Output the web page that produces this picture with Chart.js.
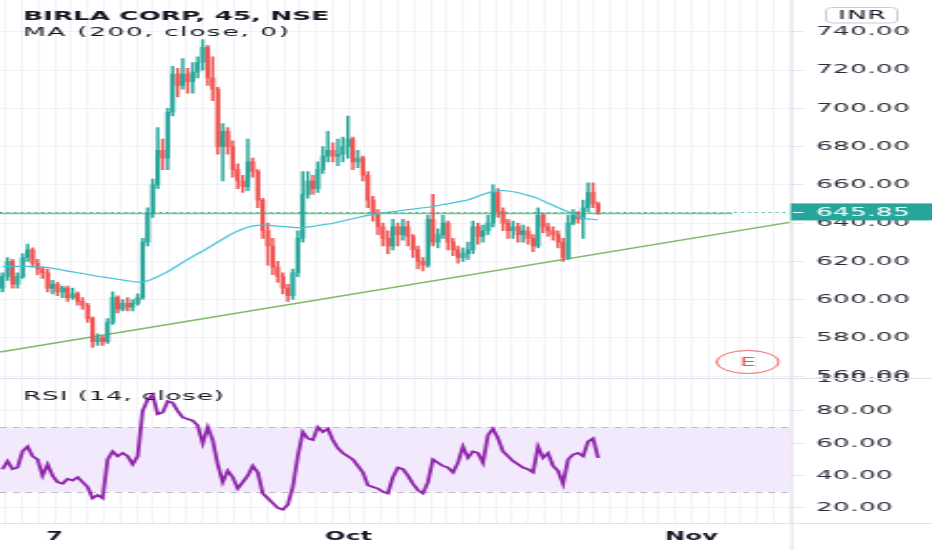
<!DOCTYPE html>
<html lang="en">
<head>
<meta charset="UTF-8">
<title>BIRLA CORP, 45, NSE</title>
<script src="https://cdn.jsdelivr.net/npm/chart.js@4.4.1/dist/chart.umd.min.js"></script>
<style>
  html, body { margin: 0; padding: 0; background: #fff; overflow: hidden; }
  /* the picture is a horizontally stretched screenshot, so the chart is drawn narrow and scaled */
  #chart { display: block; transform: scaleX(2.0991); transform-origin: 0 0; }
</style>
</head>
<body>
<canvas id="chart" width="444" height="550" style="width:444px;height:550px"></canvas>
<script>
// 45 minute candles
const opens = [606,612,620,608,612,622,626,619,616,614,
  606,608,604,606,601,603,599,597,590,578,
  580,578,588,601,595,598,596,598,601,630,
  645,660,678,674,698,718,712,718,714,719,
  724,732,716,710,680,688,680,668,662,659,
  672,667,652,636,628,617,612,606,602,614,
  632,655,662,658,668,675,678,675,676,680,
  684,672,674,665,652,645,638,632,628,638,
  634,638,633,626,620,618,642,630,634,640,
  630,626,622,624,626,638,633,636,640,656,
  646,640,636,638,634,636,632,628,644,638,
  636,634,630,622,640,644,642,648,656,650];
const highs = [614,622,621,614,624,629,627,621,617,616,
  610,609,607,607,606,604,601,598,591,582,
  581,590,604,602,600,601,600,603,632,648,
  663,690,684,700,722,721,726,721,724,727,
  736,733,727,711,692,690,683,671,665,684,
  674,668,653,640,632,620,614,608,616,636,
  667,667,665,672,680,688,682,684,685,696,
  685,678,675,667,654,647,640,636,642,640,
  642,641,634,628,622,644,655,637,644,641,
  632,628,627,630,641,640,639,644,660,658,
  648,642,641,640,639,638,634,648,645,640,
  638,636,632,644,647,646,652,661,661,651];
const lows = [604,610,606,606,611,620,617,613,611,604,
  603,602,601,599,600,597,595,588,575,576,
  576,577,587,593,594,594,594,597,600,628,
  643,658,668,668,696,706,710,708,708,716,
  720,712,704,676,662,676,664,658,656,657,
  664,648,632,618,613,609,603,599,600,612,
  630,653,655,656,666,672,672,670,672,674,
  668,669,662,648,641,634,628,624,626,628,
  631,628,622,616,615,617,628,627,632,626,
  623,619,620,621,624,629,630,634,638,643,
  636,632,632,630,630,629,625,627,635,633,
  631,627,620,621,639,640,632,646,648,644.5];
const closes = [612,620,608,612,622,626,619,616,614,606,
  608,604,606,601,603,599,597,590,578,580,
  578,588,601,595,598,596,598,601,630,645,
  660,678,674,698,718,712,718,714,719,724,
  732,716,710,680,688,680,668,662,659,672,
  667,652,636,628,617,612,606,602,614,632,
  655,662,658,668,675,678,675,676,680,684,
  672,674,665,652,645,638,632,628,638,634,
  638,633,626,620,618,642,630,634,640,630,
  626,622,624,626,638,633,636,640,656,646,
  640,636,638,634,636,632,628,644,638,636,
  634,630,622,640,644,642,648,656,650,645.85];

// MA (200, close) as drawn
const maValues = [617.2,617.3,617.4,617.4,617.4,617.3,617.2,617.1,617.0,616.8,
  616.3,615.9,615.4,614.9,614.5,614.0,613.6,613.1,612.7,612.2,
  611.8,611.4,611.0,610.6,610.2,609.8,609.4,609.1,609.2,609.8,
  610.8,612.0,613.3,614.6,616.2,617.8,619.4,621.0,622.5,624.0,
  625.3,626.9,628.5,630.1,631.6,633.2,634.6,635.8,636.9,637.8,
  638.4,638.8,639.0,638.9,638.7,638.4,638.2,638.0,637.8,637.6,
  637.6,637.9,638.3,638.7,639.1,639.5,639.9,640.5,641.1,641.7,
  642.3,642.9,643.5,644.0,644.4,644.8,645.2,645.6,646.0,646.3,
  646.7,647.0,647.3,647.7,648.0,648.3,648.7,649.2,649.7,650.1,
  650.6,651.1,651.6,652.1,653.0,654.0,655.0,655.9,656.6,656.9,
  657.0,656.8,656.4,655.9,655.2,654.5,653.8,652.8,651.6,650.4,
  649.3,648.1,647.0,645.9,644.8,643.7,642.7,642.2,641.9,641.6];

// RSI (14, close)
const rsiValues = [44,49,44,45,55,58,52,50,40,47,
  40,36,35,38,37,39,36,33,26,28,
  26,50,55,52,54,52,47,52,80,87,
  90,78,79,86,85,80,76,75,74,71,
  60,70,62,47,36,43,39,32,36,40,
  46,42,29,26,23,20,19,22,33,52,
  67,63,62,70,67,69,62,57,54,52,
  50,46,42,34,33,32,30,29,39,45,
  44,40,35,31,29,36,50,48,46,45,
  42,48,58,51,55,54,48,65,69,63,
  55,52,49,47,45,44,42,58,51,54,
  46,43,35,50,53,54,52,61,63,51];

// visible bar slots (candles plus empty space to the right)
const slotCount = 158;
const slots = Array.from({length: slotCount}, (_, i) => i);

// trading days on the time axis, day 0 = the 7th
const dayMin = -3.37;
const dayMax = 45.07;
const tickDays = [0, 18, 39];
const tickNames = ['7', 'Oct', 'Nov'];

// drawn lines: rising trend line and the horizontal level
const trendLine = [{x: -3.37, y: 572.5}, {x: 45.07, y: 640.5}];
const levelLine = [{x: -3.37, y: 645.0}, {x: 41.5, y: 645.0}];

const lastPrice = closes[closes.length - 1];
const rsiUpper = 70;
const rsiLower = 30;

const upColor = '#26a69a';
const downColor = '#ef5350';
const candleColor = c => closes[c.dataIndex] >= opens[c.dataIndex] ? upColor : downColor;
const FONT = '"DejaVu Sans"';

Chart.defaults.font.family = 'DejaVu Sans';

const overlay = {
  id: 'overlay',
  beforeDraw(chart) {
    chart.ctx.letterSpacing = '0.2px';
  },
  beforeDatasetsDraw(chart) {
    const {ctx, chartArea: a, scales} = chart;
    const top = scales.yr.getPixelForValue(rsiUpper);
    const bot = scales.yr.getPixelForValue(rsiLower);
    ctx.save();
    ctx.fillStyle = '#f3e9fc';
    ctx.fillRect(a.left, top, a.right - a.left, bot - top);
    ctx.strokeStyle = '#bdb7c7';
    ctx.lineWidth = 1;
    ctx.setLineDash([3.2, 2.9]);
    [top, bot].forEach(y => {
      ctx.beginPath();
      ctx.moveTo(a.left, Math.round(y) + 0.5);
      ctx.lineTo(a.right, Math.round(y) + 0.5);
      ctx.stroke();
    });
    ctx.restore();
  },
  afterDraw(chart) {
    const {ctx, chartArea: a, scales, width, height} = chart;
    ctx.save();

    // pane borders
    ctx.strokeStyle = '#e0e3eb';
    ctx.lineWidth = 1;
    const sep = Math.round(scales.y.bottom) + 0.5;
    const bottom = Math.round(a.bottom) + 0.5;
    ctx.beginPath();
    ctx.moveTo(0, sep); ctx.lineTo(width, sep);
    ctx.moveTo(0, bottom); ctx.lineTo(width, bottom);
    ctx.moveTo(a.right + 0.5, 0); ctx.lineTo(a.right + 0.5, height);
    ctx.stroke();

    // last price line and label
    const py = scales.y.getPixelForValue(lastPrice);
    ctx.strokeStyle = upColor;
    ctx.setLineDash([1.1, 2.2]);
    ctx.beginPath();
    ctx.moveTo(a.left, Math.round(py) + 0.5);
    ctx.lineTo(a.right, Math.round(py) + 0.5);
    ctx.stroke();
    ctx.setLineDash([]);
    ctx.fillStyle = upColor;
    ctx.fillRect(a.right, py - 8.5, width - a.right, 17);
    ctx.strokeStyle = '#ffffff';
    ctx.beginPath();
    ctx.moveTo(a.right + 1, Math.round(py) + 0.5);
    ctx.lineTo(a.right + 6, Math.round(py) + 0.5);
    ctx.stroke();
    ctx.fillStyle = '#ffffff';
    ctx.font = '12.5px ' + FONT;
    ctx.letterSpacing = '0.2px';
    ctx.textBaseline = 'middle';
    ctx.textAlign = 'left';
    ctx.fillText(lastPrice.toFixed(2), a.right + 12, py + 0.5);

    // currency badge
    ctx.strokeStyle = '#c9ccd4';
    ctx.beginPath();
    ctx.roundRect(393.5, 7.5, 34, 15.5, 3);
    ctx.stroke();
    ctx.fillStyle = '#131722';
    ctx.textAlign = 'center';
    ctx.letterSpacing = '0.5px';
    ctx.fillText('INR', 410.8, 15.5);

    // earnings marker
    ctx.strokeStyle = '#ef5350';
    ctx.lineWidth = 0.9;
    ctx.beginPath();
    ctx.ellipse(356.2, 362, 14.8, 11.5, 0, 0, Math.PI * 2);
    ctx.stroke();
    ctx.fillStyle = '#ef5350';
    ctx.letterSpacing = '0px';
    ctx.font = '12px ' + FONT;
    ctx.fillText('E', 356.2, 362.5);

    // legends
    ctx.textAlign = 'left';
    ctx.textBaseline = 'alphabetic';
    ctx.fillStyle = '#131722';
    ctx.font = 'bold 12.5px ' + FONT;
    ctx.fillText('BIRLA CORP, 45, NSE', 11, 20);
    ctx.font = '12.5px ' + FONT;
    ctx.letterSpacing = '0.8px';
    ctx.fillText('MA (200, close, 0)', 11, 36);
    ctx.letterSpacing = '0.4px';
    ctx.fillText('RSI (14, close)', 11, 399.5);
    ctx.restore();
  }
};

new Chart(document.getElementById('chart'), {
  type: 'bar',
  data: {
    labels: slots,
    datasets: [
      {
        type: 'line', label: 'MA', data: maValues, xAxisID: 'x', yAxisID: 'y',
        borderColor: '#45c3da', borderWidth: 1.2, pointRadius: 0, tension: 0.3, order: 0
      },
      {
        label: 'body', data: opens.map((o, i) => [o, closes[i]]), xAxisID: 'x', yAxisID: 'y',
        backgroundColor: candleColor, barThickness: 1.5, grouped: false, order: 1
      },
      {
        label: 'wick', data: lows.map((l, i) => [l, highs[i]]), xAxisID: 'x', yAxisID: 'y',
        backgroundColor: candleColor, barThickness: 0.8, grouped: false, order: 2
      },
      {
        type: 'line', label: 'level', data: levelLine, xAxisID: 'xd', yAxisID: 'y',
        borderColor: '#86c272', borderWidth: 1.4, pointRadius: 0, order: 3
      },
      {
        type: 'line', label: 'trend', data: trendLine, xAxisID: 'xd', yAxisID: 'y',
        borderColor: '#7cb862', borderWidth: 1.5, pointRadius: 0, order: 4
      },
      {
        type: 'line', label: 'RSI', data: rsiValues, xAxisID: 'x', yAxisID: 'yr',
        borderColor: '#8e24aa', borderWidth: 1.8, pointRadius: 0, tension: 0, order: 0
      }
    ]
  },
  options: {
    responsive: false,
    devicePixelRatio: 1,
    animation: false,
    layout: { padding: 0 },
    plugins: { legend: { display: false }, tooltip: { enabled: false } },
    scales: {
      x: { type: 'category', display: false, offset: true },
      xd: {
        type: 'linear', position: 'bottom', min: dayMin, max: dayMax, offset: false,
        grid: { color: '#f3f4f8', drawTicks: false, offset: false },
        border: { display: false },
        ticks: {
          stepSize: 1, includeBounds: false, autoSkip: false, maxRotation: 0, padding: 7,
          color: '#131722', font: { size: 11.5, weight: 'bold' },
          callback: v => {
            const k = tickDays.indexOf(Math.round(v));
            return (k < 0 || Math.abs(v - Math.round(v)) > 0.01) ? '' : tickNames[k];
          }
        },
        afterFit: s => { s.height = 27; s.paddingLeft = 0; s.paddingRight = 0; }
      },
      y: {
        type: 'linear', position: 'right', stack: 'panes', stackWeight: 378.3,
        min: 558.8, max: 756.7,
        grid: { color: '#f0f2f6', tickLength: 6, tickColor: '#e3e6ec' },
        border: { display: false },
        ticks: {
          stepSize: 20, includeBounds: false, padding: 6, color: '#2a2e39',
          font: { size: 12.5 }, callback: v => v.toFixed(2)
        },
        afterFit: s => { s.width = 67.3; s.paddingTop = 0; s.paddingBottom = 0; }
      },
      yr: {
        type: 'linear', position: 'right', stack: 'panes', stackWeight: 144.7,
        min: 10.7, max: 100.2,
        grid: { color: '#f0f2f6', tickLength: 6, tickColor: '#e3e6ec' },
        border: { display: false },
        ticks: {
          stepSize: 20, includeBounds: false, padding: 6, color: '#2a2e39',
          font: { size: 12.5 }, callback: v => v.toFixed(2)
        },
        afterFit: s => { s.width = 67.3; s.paddingTop = 0; s.paddingBottom = 0; }
      }
    }
  },
  plugins: [overlay]
});
</script>
</body>
</html>
